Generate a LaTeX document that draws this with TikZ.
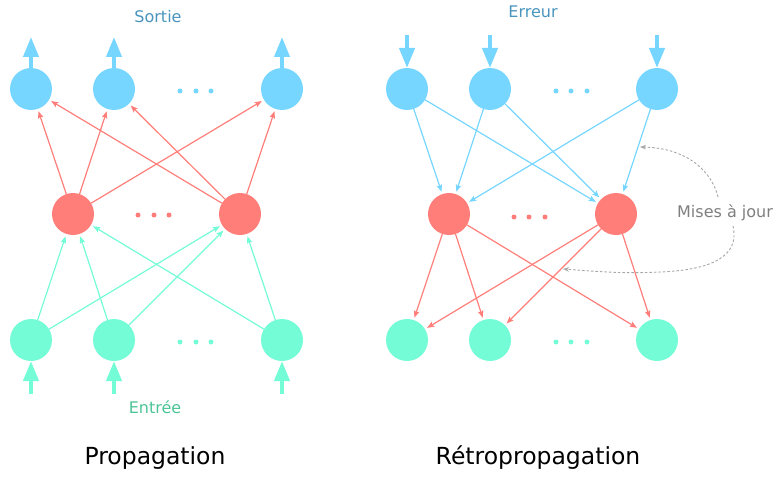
\documentclass[tikz,border=0pt]{standalone}
\usepackage{fontspec}
\setmainfont{DejaVu Sans}
\usetikzlibrary{arrows.meta}
\definecolor{cblue}{HTML}{76D6FF}
\definecolor{cred}{HTML}{FF7E79}
\definecolor{cgreen}{HTML}{73FCD6}
\definecolor{tblue}{HTML}{4A95BD}
\definecolor{tgreen}{HTML}{4CC497}
\definecolor{tgray}{HTML}{7F7F7F}
\definecolor{dgray}{HTML}{A6A6A6}
\begin{document}
\begin{tikzpicture}[x=1pt,y=-1pt,
  neuron/.style={circle,minimum size=42pt,inner sep=0pt,outer sep=0pt,fill=#1},
  dotc/.style={circle,fill=#1,minimum size=5pt,inner sep=0pt},
  link/.style={draw=#1,line width=1.2pt,-{Stealth[length=7pt,width=5.5pt,inset=1.2pt]},shorten >=2.5pt},
  bigarrow/.style={draw=cblue,line width=4pt,-{Triangle[length=20pt,width=15pt]}},
  bigarrowg/.style={draw=cgreen,line width=4pt,-{Triangle[length=20pt,width=15pt]}},
  lbl/.style={font=\fontsize{16}{19}\selectfont,text=#1},
  title/.style={font=\fontsize{23.5}{27}\selectfont,text=black},
  upd/.style={draw=dgray,line width=0.9pt,dash pattern=on 2.5pt off 2pt,-{Stealth[length=6pt,width=4.5pt]}}
]
\useasboundingbox (0,0) rectangle (778,476);

% ---------- Left: Propagation ----------
\node[neuron=cblue] (o1) at (31,89) {};
\node[neuron=cblue] (o2) at (114,89) {};
\node[neuron=cblue] (o3) at (282,89) {};
\node[neuron=cred] (h1) at (73,214) {};
\node[neuron=cred] (h2) at (240,214) {};
\node[neuron=cgreen] (i1) at (31,340) {};
\node[neuron=cgreen] (i2) at (114,340) {};
\node[neuron=cgreen] (i3) at (282,340) {};

\node[dotc=cblue] (do1) at (180,91) {};
\node[dotc=cblue] (do2) at (196,91) {};
\node[dotc=cblue] (do3) at (211,91) {};
\node[dotc=cred] (dh1) at (138,215) {};
\node[dotc=cred] (dh2) at (154,215) {};
\node[dotc=cred] (dh3) at (169,215) {};
\node[dotc=cgreen] (di1) at (180,342) {};
\node[dotc=cgreen] (di2) at (196,342) {};
\node[dotc=cgreen] (di3) at (211,342) {};

\foreach \h in {h1,h2}
  \foreach \o in {o1,o2,o3}
    \draw[link=cred] (\h) -- (\o);
\foreach \i in {i1,i2,i3}
  \foreach \h in {h1,h2}
    \draw[link=cgreen] (\i) -- (\h);

\coordinate (ta1) at (31,37);
\coordinate (ta2) at (114,37);
\coordinate (ta3) at (282,37);
\draw[bigarrow] (o1.north) -- (ta1);
\draw[bigarrow] (o2.north) -- (ta2);
\draw[bigarrow] (o3.north) -- (ta3);
\coordinate (ba1) at (31,394);
\coordinate (ba2) at (114,394);
\coordinate (ba3) at (282,394);
\draw[bigarrowg] (ba1) -- (i1.south);
\draw[bigarrowg] (ba2) -- (i2.south);
\draw[bigarrowg] (ba3) -- (i3.south);

\node[lbl=tblue] (sortie) at (158,17) {Sortie};
\node[lbl=tgreen] (entree) at (155,407) {Entrée};
\node[title] (prop) at (155,458) {Propagation};

% ---------- Right: Retropropagation ----------
\node[neuron=cblue] (p1) at (407,89) {};
\node[neuron=cblue] (p2) at (490,89) {};
\node[neuron=cblue] (p3) at (657,89) {};
\node[neuron=cred] (k1) at (449,214) {};
\node[neuron=cred] (k2) at (616,214) {};
\node[neuron=cgreen] (j1) at (407,340) {};
\node[neuron=cgreen] (j2) at (490,340) {};
\node[neuron=cgreen] (j3) at (657,340) {};

\node[dotc=cblue] (dp1) at (556,91) {};
\node[dotc=cblue] (dp2) at (571,91) {};
\node[dotc=cblue] (dp3) at (587,91) {};
\node[dotc=cred] (dk1) at (514,217) {};
\node[dotc=cred] (dk2) at (529,217) {};
\node[dotc=cred] (dk3) at (545,217) {};
\node[dotc=cgreen] (dj1) at (556,342) {};
\node[dotc=cgreen] (dj2) at (571,342) {};
\node[dotc=cgreen] (dj3) at (587,342) {};

\foreach \p in {p1,p2,p3}
  \foreach \k in {k1,k2}
    \draw[link=cblue] (\p) -- (\k);
\foreach \k in {k1,k2}
  \foreach \j in {j1,j2,j3}
    \draw[link=cred] (\k) -- (\j);

\coordinate (ra1) at (407,35);
\coordinate (ra2) at (490,35);
\coordinate (ra3) at (657,35);
\draw[bigarrow] (ra1) -- (p1.north);
\draw[bigarrow] (ra2) -- (p2.north);
\draw[bigarrow] (ra3) -- (p3.north);

\node[lbl=tblue] (erreur) at (533,12) {Erreur};
\node[title] (retro) at (538,458) {Rétropropagation};
\node[lbl=tgray] (maj) at (725,213) {Mises à jour};

\coordinate (u1s) at (718,197);
\coordinate (u1e) at (640,147);
\coordinate (u2s) at (733,226);
\coordinate (u2m) at (660,272);
\coordinate (u2e) at (563,269);
\draw[upd] (u1s) .. controls (712,172) and (688,148) .. (u1e);
\draw[upd] (u2s) .. controls (740,256) and (712,270) .. (u2m) .. controls (620,274) and (592,271) .. (u2e);
\end{tikzpicture}
\end{document}
